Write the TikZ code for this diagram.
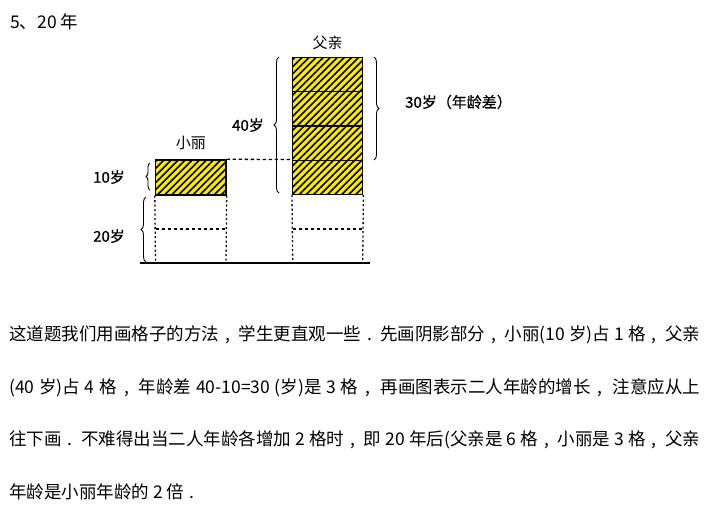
\documentclass[tikz,border=0pt]{standalone}
\usepackage{fontspec}
\setmainfont{Noto Sans CJK SC}
\newfontfamily\labfont[FakeBold=0.8]{Noto Sans CJK SC}
\newcommand\cmx{\hspace{0.3em plus 0.3em},\hspace{0.45em plus 0.3em}}
\newcommand\ptx{\hspace{0.3em plus 0.3em}.\hspace{0.45em plus 0.3em}}
\usetikzlibrary{patterns.meta,decorations.pathreplacing}
\definecolor{hy}{RGB}{250,235,0}
\begin{document}
\begin{tikzpicture}[x=1pt,y=-1pt,
  hatch/.style={draw=black,line width=1.4pt,inner sep=0pt,minimum width=70pt,minimum height=34.3pt,
    preaction={fill=hy},pattern={Lines[angle=45,distance=5pt,line width=1.6pt]},pattern color=black},
  dotl/.style={line width=1.3pt,dash pattern=on 2pt off 2.5pt},
  dashl/.style={line width=1.3pt,dash pattern=on 3.5pt off 2.5pt},
  brc/.style={decorate,decoration={brace,amplitude=5pt},line width=0.9pt},
  lab/.style={font=\fontsize{15}{17}\selectfont,inner sep=0pt},
  blab/.style={font=\labfont\fontsize{15}{17}\selectfont,inner sep=0pt},
  para/.style={font=\fontsize{17.5}{20}\selectfont,anchor=west,inner sep=0pt}]
\useasboundingbox (0,0) rectangle (713,515);
% title
\node[para] (title) at (10,22) {5、20 年};
% father column
\node[hatch] (f1) at (327.7,74.45) {};
\node[hatch] (f2) at (327.7,108.75) {};
\node[hatch] (f3) at (327.7,143.05) {};
\node[hatch] (f4) at (327.7,177.35) {};
\node[lab] (fl) at (327.7,43) {父亲};
% xiaoli
\node[hatch,minimum width=70.5pt,minimum height=35pt] (x1) at (190.75,177.5) {};
\node[lab] (xl) at (190.75,143) {小丽};
% dashed link
\draw[dashl] (x1.north east) -- (f4.north west);
% ground
\coordinate (g1) at (140,263);
\coordinate (g2) at (370,263);
\draw[line width=1.3pt] (g1) -- (g2);
% lower dotted areas
\coordinate (xa) at (155.5,263);
\coordinate (xb) at (226,263);
\coordinate (fa) at (292.7,263);
\coordinate (fb) at (362.7,263);
\draw[dotl] (x1.south west) -- (xa);
\draw[dotl] (x1.south east) -- (xb);
\draw[dotl] (f4.south west) -- (fa);
\draw[dotl] (f4.south east) -- (fb);
\coordinate (xm1) at (155.5,229);
\coordinate (xm2) at (226,229);
\coordinate (fm1) at (292.7,229);
\coordinate (fm2) at (362.7,229);
\draw[dashl] (xm1) -- (xm2);
\draw[dashl] (fm1) -- (fm2);
% braces
\coordinate (b40a) at (279,193);
\coordinate (b40b) at (279,57);
\draw[brc] (b40a) -- (b40b);
\node[blab] (l40) at (248,125) {40岁};
\coordinate (b30a) at (374,57);
\coordinate (b30b) at (374,160);
\draw[brc] (b30a) -- (b30b);
\node[blab,anchor=west] (l30) at (405,102) {30岁（年龄差）};
\coordinate (b10a) at (150,190);
\coordinate (b10b) at (150,163);
\draw[brc,decoration={amplitude=4pt}] (b10a) -- (b10b);
\node[blab] (l10) at (109,177) {10岁};
\coordinate (b20a) at (146,262);
\coordinate (b20b) at (146,197);
\draw[brc] (b20a) -- (b20b);
\node[blab] (l20) at (109,236) {20岁};
% paragraph
\node[para] (p1) at (9,335) {\makebox[691pt][s]{这道题我们用画格子的方法\cmx 学生更直观一些\ptx 先画阴影部分\cmx 小丽(10 岁)占 1 格\cmx 父亲}};
\node[para] (p2) at (9,388) {\makebox[691pt][s]{(40 岁)占 4 格\cmx 年龄差 40-10=30 (岁)是 3 格\cmx 再画图表示二人年龄的增长\cmx 注意应从上}};
\node[para] (p3) at (9,440) {\makebox[691pt][s]{往下画\ptx 不难得出当二人年龄各增加 2 格时\cmx 即 20 年后(父亲是 6 格\cmx 小丽是 3 格\cmx 父亲}};
\node[para] (p4) at (9,492) {年龄是小丽年龄的 2 倍\ptx};
\end{tikzpicture}
\end{document}
